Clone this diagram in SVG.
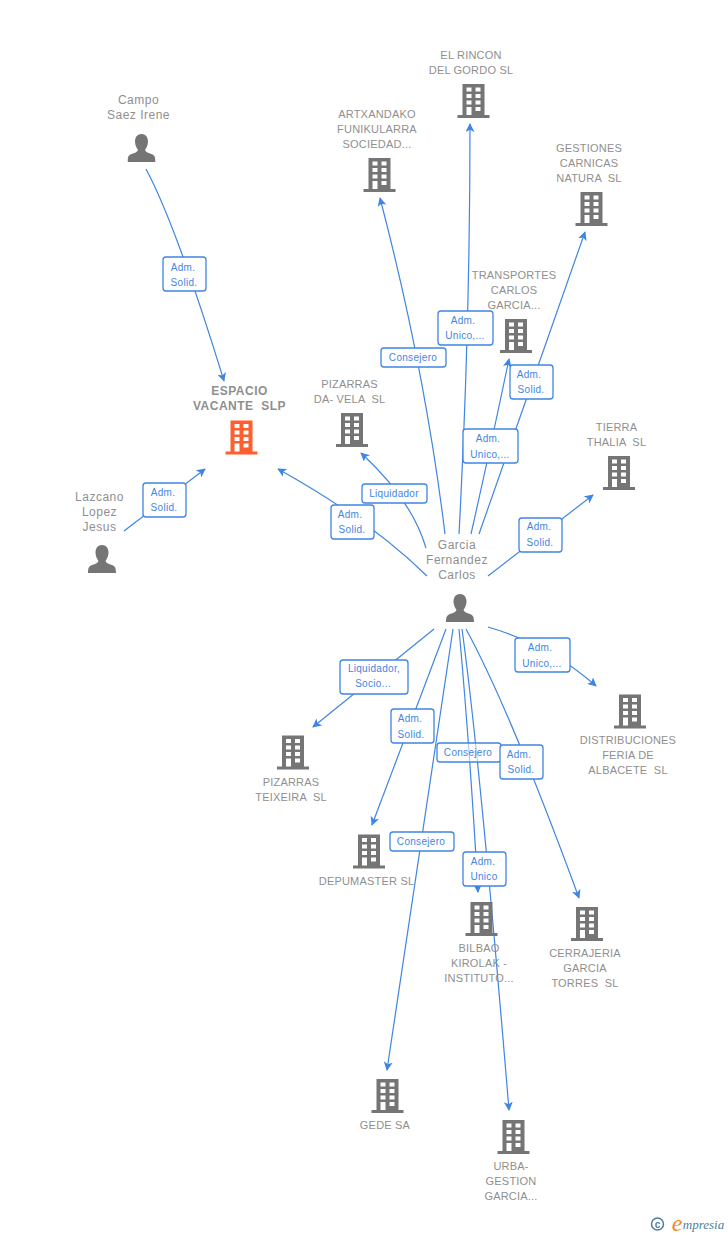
<svg xmlns="http://www.w3.org/2000/svg" xmlns:xlink="http://www.w3.org/1999/xlink" width="728" height="1235" viewBox="0 0 728 1235">
<style>
text{font-family:"Liberation Sans",Arial,sans-serif;font-size:11px;fill:#8f8f8f;text-anchor:middle;letter-spacing:.2px;white-space:pre}
.h{font-size:12px;letter-spacing:.5px}
.c{fill:none;stroke:#3f85e4;stroke-width:1.2;marker-end:url(#a)}
.lb rect{fill:#fff;stroke:#3f85e4;stroke-width:1.3}
.lb text{fill:#3f85e4;font-size:10px;letter-spacing:.3px}
.g{fill:#757575}.o{fill:#ff5e2e}
.main{font-weight:bold;font-size:12px;letter-spacing:.5px}
</style>
<defs>
<marker id="a" viewBox="0 0 10 10" refX="9" refY="5" markerWidth="9" markerHeight="9" orient="auto" markerUnits="userSpaceOnUse"><path d="M0 0L10 5L0 10L2.500 5Z" fill="#3f85e4"/></marker>
<symbol id="b" viewBox="0 0 32 35" width="32" height="35" overflow="visible">
<path fill-rule="evenodd" d="M5 0H27V31H32V34H0V31H5ZM9 3.500V7.500H14V3.500ZM18 3.500V7.500H23V3.500ZM9 10V14H14V10ZM18 10V14H23V10ZM9 16.500V20.500H14V16.500ZM18 16.500V20.500H23V16.500ZM9 23V31H14V23ZM18 23V27H23V23Z"/>
</symbol>
<symbol id="p" viewBox="0 0 28 28" width="28" height="28">
<path d="M14 0C18 0 20.500 3 20.500 7.500C20.500 11 19 14 17.500 16C18 18 21 19 24 20C27 21 28 23 28 28H0C0 23 1 21 4 20C7 19 10 18 10.500 16C9 14 7.500 11 7.500 7.500C7.500 3 10 0 14 0Z"/>
</symbol>
</defs>
<g id="connectors">
<path class="c" d="M146 169Q176 225 224 381"/>
<path class="c" d="M124 531L205 469"/>
<path class="c" d="M427 576Q370 520 278 469"/>
<path class="c" d="M426 548Q412 500 361 453"/>
<path class="c" d="M445 534Q425 370 380 198"/>
<path class="c" d="M459 534Q470 330 470 124"/>
<path class="c" d="M471 534Q490 450 509 359"/>
<path class="c" d="M479 534Q530 390 585 232"/>
<path class="c" d="M488 576L593 495"/>
<path class="c" d="M488 627Q550 645 596 686"/>
<path class="c" d="M434 629L313 727"/>
<path class="c" d="M446 629L372 825"/>
<path class="c" d="M466 629Q510 710 579 898"/>
<path class="c" d="M459 629Q470 750 478 892"/>
<path class="c" d="M453 629L387 1070"/>
<path class="c" d="M462 629Q480 760 509 1110"/>
</g>
<g id="n1"><text class="h" x="138.500" y="104">Campo</text><text class="h" x="138.500" y="119">Saez Irene</text><use href="#p" x="127.500" y="134" class="g"/></g>
<g id="n2"><text class="h" x="99.500" y="501">Lazcano</text><text class="h" x="99.500" y="516">Lopez</text><text class="h" x="99.500" y="531">Jesus</text><use href="#p" x="88" y="545" class="g"/></g>
<g id="n3"><text class="main" x="239.500" y="395">ESPACIO</text><text class="main" x="239.500" y="410">VACANTE  SLP</text><use href="#b" x="225.500" y="420.500" class="o"/></g>
<g id="n4"><text x="349.500" y="388">PIZARRAS</text><text x="349.500" y="403">DA- VELA  SL</text><use href="#b" x="336" y="413" class="g"/></g>
<g id="n5"><text x="471" y="59">EL RINCON</text><text x="471" y="74">DEL GORDO SL</text><use href="#b" x="457.500" y="84" class="g"/></g>
<g id="n6"><text x="377" y="118">ARTXANDAKO</text><text x="377" y="133">FUNIKULARRA</text><text x="377" y="148">SOCIEDAD...</text><use href="#b" x="363.500" y="158" class="g"/></g>
<g id="n7"><text x="589" y="152">GESTIONES</text><text x="589" y="167">CARNICAS</text><text x="589" y="182">NATURA  SL</text><use href="#b" x="575.500" y="192" class="g"/></g>
<g id="n8"><text x="514" y="279">TRANSPORTES</text><text x="514" y="294">CARLOS</text><text x="514" y="309">GARCIA...</text><use href="#b" x="500" y="319" class="g"/></g>
<g id="n9"><text x="616.500" y="431">TIERRA</text><text x="616.500" y="446">THALIA  SL</text><use href="#b" x="603" y="456" class="g"/></g>
<g id="n10"><text class="h" x="457" y="549">Garcia</text><text class="h" x="457" y="564">Fernandez</text><text class="h" x="457" y="579">Carlos</text><use href="#p" x="446" y="594" class="g"/></g>
<g id="n11"><use href="#b" x="614" y="694.500" class="g"/><text x="628" y="744">DISTRIBUCIONES</text><text x="628" y="759">FERIA DE</text><text x="628" y="774">ALBACETE  SL</text></g>
<g id="n12"><use href="#b" x="277" y="735.500" class="g"/><text x="291" y="786">PIZARRAS</text><text x="291" y="801">TEIXEIRA  SL</text></g>
<g id="n13"><use href="#b" x="353" y="834.500" class="g"/><text x="366.500" y="885">DEPUMASTER SL</text></g>
<g id="n14"><use href="#b" x="465.500" y="902" class="g"/><text x="479" y="952">BILBAO</text><text x="479" y="967">KIROLAK -</text><text x="479" y="982">INSTITUTO...</text></g>
<g id="n15"><use href="#b" x="571" y="907" class="g"/><text x="585" y="957">CERRAJERIA</text><text x="585" y="972">GARCIA</text><text x="585" y="987">TORRES  SL</text></g>
<g id="n16"><use href="#b" x="371.500" y="1079" class="g"/><text x="385" y="1129">GEDE SA</text></g>
<g id="n17"><use href="#b" x="497.500" y="1120" class="g"/><text x="511" y="1170">URBA-</text><text x="511" y="1185">GESTION</text><text x="511" y="1200">GARCIA...</text></g>
<g id="labels" class="lb">
<rect x="163" y="257" width="43" height="34" rx="3"/><text x="183" y="271">Adm.</text><text x="184" y="286">Solid.</text>
<rect x="143" y="483" width="43" height="34" rx="3"/><text x="163" y="496">Adm.</text><text x="164" y="511">Solid.</text>
<rect x="331" y="505" width="43" height="34" rx="3"/><text x="350" y="518">Adm.</text><text x="352" y="533">Solid.</text>
<rect x="362" y="484" width="65" height="19" rx="3"/><text x="394" y="497">Liquidador</text>
<rect x="381" y="348" width="65" height="19" rx="3"/><text x="413" y="361">Consejero</text>
<rect x="438" y="311" width="55" height="34" rx="3"/><text x="463" y="324">Adm.</text><text x="465" y="339">Unico,...</text>
<rect x="510" y="365" width="43" height="34" rx="3"/><text x="529" y="378">Adm.</text><text x="531" y="393">Solid.</text>
<rect x="463" y="429" width="55" height="34" rx="3"/><text x="488" y="442">Adm.</text><text x="490" y="458">Unico,...</text>
<rect x="519" y="518" width="43" height="34" rx="3"/><text x="539" y="530">Adm.</text><text x="540" y="546">Solid.</text>
<rect x="515" y="638" width="55" height="34" rx="3"/><text x="540" y="651">Adm.</text><text x="542" y="667">Unico,...</text>
<rect x="340" y="660" width="68" height="34" rx="3"/><text x="374" y="672">Liquidador,</text><text x="373" y="687">Socio...</text>
<rect x="391" y="709" width="43" height="34" rx="3"/><text x="410" y="722">Adm.</text><text x="411" y="738">Solid.</text>
<rect x="437" y="743" width="64" height="19" rx="3" style="fill:#fff;fill-opacity:.6"/><text x="468" y="756">Consejero</text>
<rect x="500" y="745" width="43" height="34" rx="3"/><text x="519" y="758">Adm.</text><text x="521" y="773">Solid.</text>
<rect x="390" y="832" width="64" height="19" rx="3"/><text x="421" y="845">Consejero</text>
<rect x="463" y="852" width="43" height="34" rx="3"/><text x="483" y="865">Adm.</text><text x="484" y="880">Unico</text>
</g>
<g id="logo">
<circle cx="657.500" cy="1224" r="6" fill="none" stroke="#4a7f9c" stroke-width="1.500"/>
<text x="657.500" y="1227.500" style="font-size:10px;font-weight:bold;fill:#4a7f9c;letter-spacing:0">c</text>
<text x="677" y="1231" style="font-family:'Liberation Serif',serif;font-style:italic;font-size:24px;fill:#f08a24;letter-spacing:0">e</text>
<text x="703.500" y="1229" style="font-family:'Liberation Serif',serif;font-style:italic;font-size:13px;fill:#4a7f9c;letter-spacing:0">mpresia</text>
</g>
</svg>
